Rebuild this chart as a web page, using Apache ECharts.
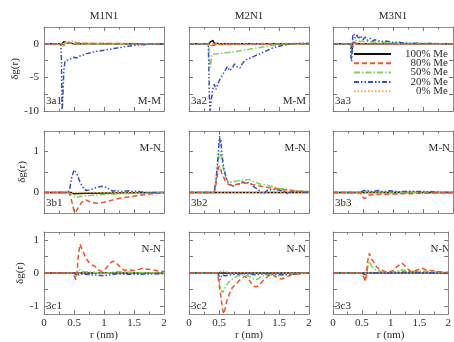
<!DOCTYPE html>
<html><head><meta charset="utf-8">
<script src="https://cdn.jsdelivr.net/npm/echarts@6/dist/echarts.min.js"></script>
<style>html,body{margin:0;padding:0;background:#fff}#c{width:454px;height:342px}</style>
</head><body><div id="c"></div>
<script>
// ---------- labels ----------
const seriesNames = ['100% Me','80% Me','50% Me','20% Me','0% Me'];
const columnTitles = ['M1N1','M2N1','M3N1'];
const pairLabels = ['M-M','M-N','N-N'];
const panelIds = [['3a1','3a2','3a3'],['3b1','3b2','3b3'],['3c1','3c2','3c3']];
const yRanges = [[-10,2.5],[-0.5,1.5],[-1.25,1.25]];
const yLabelValues = [[-10,-5,0],[0,1],[-1,0,1]];
const yTickValues = [[-10,-7.5,-5,-2.5,0],[-0.5,0,0.5,1],[-1,-0.5,0,0.5,1]];

// ---------- data: [r, δg(r)] ----------
const flat = [[0,0],[2,0]];
// row a (M-M)
const a1_100 = [[0,0],[0.3,0],[0.33,0.3],[0.37,0.2],[0.42,0.1],[0.5,0],[2,0]];
const a1_80 = [[0,0],[0.3,0],[0.34,-0.2],[0.4,0.1],[0.6,0.05],[2,0]];
const a1_50 = [[0,0],[0.3,0],[0.32,-0.5],[0.36,0.2],[0.45,0.1],[0.7,0],[2,0]];
const a1_20 = [[0,0],[0.28,0],[0.29,-2],[0.3,-9.8],[0.31,-9],[0.33,-4],[0.35,-2.6],[0.4,-2.4],[0.45,-2.2],[0.5,-2.0],[0.55,-2.1],[0.6,-1.8],[0.65,-1.7],[0.7,-1.5],[0.8,-1.3],[0.9,-1.1],[1.0,-0.95],[1.1,-0.8],[1.2,-0.65],[1.3,-0.5],[1.4,-0.35],[1.5,-0.25],[1.6,-0.15],[1.7,-0.1],[1.8,-0.05],[2,0]];
const a1_0 = [[0,0],[0.3,0],[0.35,0.2],[0.45,0.4],[0.55,0.2],[0.8,0.1],[1.2,0.05],[2,0]];
const a2_100 = [[0,0],[0.33,0],[0.36,0.3],[0.38,0.55],[0.4,0.5],[0.42,0.1],[0.45,-0.1],[0.5,0],[2,0]];
const a2_80 = [[0,0],[0.33,0],[0.36,-0.4],[0.4,-0.2],[0.5,-0.1],[0.7,-0.05],[1,0],[2,0]];
const a2_50 = [[0,0],[0.33,0],[0.34,-2.5],[0.36,-3.5],[0.38,-1.6],[0.45,-1.5],[0.55,-1.4],[0.65,-1.3],[0.75,-1.2],[0.85,-1.05],[0.95,-0.9],[1.05,-0.75],[1.15,-0.6],[1.25,-0.45],[1.35,-0.3],[1.45,-0.2],[1.6,-0.1],[1.8,-0.05],[2,0]];
const a2_20 = [[0,0],[0.32,0],[0.33,-3],[0.34,-8],[0.35,-10],[0.37,-10],[0.39,-7],[0.42,-6],[0.45,-6.8],[0.48,-6],[0.52,-5.2],[0.56,-4.6],[0.6,-4],[0.64,-3.4],[0.68,-4],[0.72,-3.6],[0.76,-3],[0.8,-3.4],[0.85,-3.6],[0.9,-2.8],[0.95,-2.4],[1.0,-2.2],[1.1,-1.8],[1.2,-1.4],[1.3,-1.0],[1.4,-0.6],[1.5,-0.35],[1.6,-0.15],[1.7,0],[1.8,0.05],[1.9,0.1],[2,0.1]];
const a2_0 = [[0,0],[0.33,0],[0.36,-0.3],[0.42,0.1],[0.5,0],[2,0]];
const a3_100 = [[0,0],[0.3,0],[0.32,-0.8],[0.34,0.3],[0.38,0],[2,0]];
const a3_80 = [[0,0],[0.3,0],[0.32,-0.4],[0.35,0.2],[0.4,0],[2,0]];
const a3_50 = [[0,0],[0.3,0],[0.31,-1.5],[0.33,-0.5],[0.36,0.5],[0.45,0.4],[0.6,0.3],[0.8,0.2],[1.0,0.1],[1.3,0.05],[2,0]];
const a3_20 = [[0,0],[0.29,0],[0.3,-2],[0.31,-2.6],[0.32,-1],[0.33,1.2],[0.35,1.5],[0.37,0.8],[0.4,1.3],[0.43,0.7],[0.46,1.2],[0.5,0.6],[0.54,1.0],[0.58,0.5],[0.62,0.8],[0.66,0.4],[0.7,0.6],[0.8,0.35],[0.9,0.4],[1.0,0.2],[1.1,0.25],[1.2,0.1],[1.3,0.1],[1.5,0.05],[2,0]];
const a3_0 = [[0,0],[0.3,0],[0.33,0.3],[0.4,0.1],[2,0]];
// row b (M-N)
const b1_100 = [[0,0],[0.45,0],[0.5,-0.03],[0.7,-0.02],[2,0]];
const b1_80 = [[0,0],[0.42,0],[0.46,-0.2],[0.5,-0.45],[0.52,-0.5],[0.55,-0.42],[0.6,-0.3],[0.65,-0.2],[0.7,-0.18],[0.75,-0.22],[0.8,-0.25],[0.9,-0.26],[1.0,-0.24],[1.1,-0.2],[1.2,-0.16],[1.3,-0.13],[1.4,-0.11],[1.5,-0.09],[1.6,-0.07],[1.7,-0.05],[1.8,-0.03],[1.9,-0.02],[2,0]];
const b1_50 = [[0,0],[0.42,0],[0.47,-0.05],[0.52,-0.12],[0.6,-0.1],[0.7,-0.08],[0.8,-0.07],[1.0,-0.05],[1.3,-0.03],[1.6,-0.02],[2,0]];
const b1_20 = [[0,0],[0.4,0],[0.43,0.1],[0.46,0.35],[0.5,0.55],[0.52,0.55],[0.55,0.45],[0.6,0.25],[0.65,0.12],[0.7,0.05],[0.75,0.06],[0.8,0.08],[0.85,0.11],[0.9,0.13],[0.95,0.15],[1.0,0.14],[1.05,0.12],[1.1,0.07],[1.15,0.03],[1.2,0.05],[1.3,0.02],[1.4,0.04],[1.5,0.02],[1.55,0.04],[1.6,0.02],[1.7,0],[2,0]];
const b1_0 = flat;
const b2_100 = flat;
const b2_80 = [[0,0],[0.42,0],[0.45,0.2],[0.48,0.5],[0.5,0.65],[0.52,0.6],[0.55,0.45],[0.6,0.3],[0.65,0.2],[0.7,0.18],[0.8,0.2],[0.9,0.24],[1.0,0.22],[1.1,0.18],[1.2,0.15],[1.3,0.13],[1.4,0.1],[1.5,0.08],[1.6,0.06],[1.7,0.04],[1.8,0.03],[2,0.02]];
const b2_50 = [[0,0],[0.42,0],[0.46,0.4],[0.5,0.9],[0.52,1.0],[0.54,0.85],[0.57,0.6],[0.6,0.4],[0.65,0.28],[0.7,0.25],[0.8,0.28],[0.9,0.3],[1.0,0.32],[1.1,0.25],[1.2,0.2],[1.3,0.18],[1.4,0.14],[1.5,0.1],[1.6,0.08],[1.8,0.04],[2,0.02]];
const b2_20 = [[0,0],[0.42,0],[0.45,0.3],[0.48,0.8],[0.5,1.2],[0.51,1.38],[0.52,1.2],[0.53,1.3],[0.55,0.9],[0.58,0.6],[0.62,0.35],[0.66,0.22],[0.7,0.18],[0.75,0.15],[0.8,0.22],[0.85,0.2],[0.9,0.26],[0.95,0.22],[1.0,0.25],[1.05,0.18],[1.1,0.12],[1.15,0.08],[1.2,0.0],[1.25,-0.02],[1.3,0.05],[1.4,0.08],[1.5,0.06],[1.6,0.02],[1.65,-0.04],[1.7,0.02],[1.8,0.03],[1.9,0.01],[2,0]];
const b2_0 = flat;
const b3_100 = flat;
const b3_80 = [[0,0],[0.45,0],[0.48,-0.08],[0.52,-0.15],[0.56,-0.12],[0.6,-0.06],[0.7,-0.05],[0.9,-0.04],[1.2,-0.03],[1.5,-0.02],[2,0]];
const b3_50 = [[0,0],[0.45,0],[0.5,-0.05],[0.55,0.03],[0.7,0.02],[1.0,0.01],[2,0]];
const b3_20 = [[0,0],[0.45,0],[0.5,0.04],[0.55,0.05],[0.65,0.02],[0.75,0.05],[0.85,0.02],[0.95,0.04],[1.1,0.02],[1.3,0.03],[1.5,0.02],[2,0]];
const b3_0 = flat;
// row c (N-N)
const c1_100 = flat;
const c1_80 = [[0,0],[0.48,0],[0.5,-0.08],[0.53,-0.2],[0.55,0.0],[0.57,0.5],[0.6,0.88],[0.62,0.85],[0.65,0.65],[0.7,0.45],[0.75,0.32],[0.8,0.25],[0.85,0.2],[0.9,0.1],[0.95,0.05],[1.0,0.08],[1.05,0.18],[1.1,0.3],[1.15,0.36],[1.2,0.32],[1.25,0.22],[1.3,0.12],[1.35,0.08],[1.4,0.1],[1.5,0.08],[1.6,0.12],[1.65,0.15],[1.7,0.12],[1.8,0.1],[1.9,0.06],[2,0.05]];
const c1_50 = [[0,0],[0.48,0],[0.52,-0.15],[0.55,-0.05],[0.6,0.1],[0.65,0.05],[0.8,0.03],[1.0,-0.03],[1.2,0.05],[1.5,0.02],[2,0]];
const c1_20 = [[0,0],[0.5,0],[0.55,-0.08],[0.6,-0.03],[0.8,-0.05],[1.0,-0.08],[1.2,-0.03],[1.5,-0.04],[2,-0.02]];
const c1_0 = flat;
const c2_100 = flat;
const c2_80 = [[0,0],[0.47,0],[0.5,-0.3],[0.53,-0.7],[0.56,-1.1],[0.58,-1.25],[0.6,-1.1],[0.63,-0.85],[0.67,-0.65],[0.72,-0.45],[0.8,-0.3],[0.88,-0.15],[0.93,-0.1],[1.0,-0.2],[1.05,-0.35],[1.1,-0.42],[1.15,-0.4],[1.2,-0.3],[1.25,-0.2],[1.3,-0.12],[1.35,-0.05],[1.4,-0.06],[1.45,-0.12],[1.5,-0.16],[1.55,-0.18],[1.6,-0.14],[1.7,-0.06],[1.8,-0.03],[1.9,-0.01],[2,0.02]];
const c2_50 = [[0,0],[0.48,0],[0.5,-0.2],[0.53,-0.5],[0.56,-0.6],[0.6,-0.45],[0.65,-0.3],[0.7,-0.2],[0.8,-0.1],[0.9,-0.05],[1.0,-0.1],[1.1,-0.2],[1.15,-0.18],[1.2,-0.1],[1.3,-0.05],[1.5,-0.08],[1.6,-0.05],[1.8,-0.02],[2,0]];
const c2_20 = [[0,0],[0.48,0],[0.5,-0.1],[0.52,-0.2],[0.55,-0.05],[0.6,-0.08],[0.7,-0.05],[0.9,-0.02],[1.1,-0.05],[1.3,-0.02],[1.6,-0.05],[2,0]];
const c2_0 = [[0,0],[0.5,0],[0.55,0.08],[0.6,0.05],[0.7,0],[2,0]];
const c3_100 = flat;
const c3_80 = [[0,0],[0.5,0],[0.53,-0.1],[0.56,-0.25],[0.58,-0.05],[0.6,0.35],[0.63,0.6],[0.66,0.45],[0.7,0.35],[0.75,0.2],[0.8,0.12],[0.85,0.1],[0.9,0.04],[0.95,0.0],[1.0,0.05],[1.05,0.08],[1.1,0.18],[1.15,0.25],[1.2,0.3],[1.25,0.22],[1.3,0.12],[1.35,0.05],[1.4,0.05],[1.5,0.12],[1.55,0.15],[1.6,0.1],[1.7,0.08],[1.8,0.05],[1.9,0.03],[2,0.02]];
const c3_50 = [[0,0],[0.5,0],[0.53,-0.1],[0.56,-0.22],[0.6,0.15],[0.63,0.35],[0.67,0.2],[0.75,0.08],[0.85,0.05],[1.0,0.02],[1.2,0.1],[1.3,0.05],[1.5,0.06],[2,0.02]];
const c3_20 = [[0,0],[0.5,0],[0.55,-0.05],[0.6,0.02],[0.8,0],[1.2,0.03],[2,0]];
const c3_0 = flat;

// panels[row][col] = [100%, 80%, 50%, 20%, 0%]
const panels = [
  [[a1_100,a1_80,a1_50,a1_20,a1_0],[a2_100,a2_80,a2_50,a2_20,a2_0],[a3_100,a3_80,a3_50,a3_20,a3_0]],
  [[b1_100,b1_80,b1_50,b1_20,b1_0],[b2_100,b2_80,b2_50,b2_20,b2_0],[b3_100,b3_80,b3_50,b3_20,b3_0]],
  [[c1_100,c1_80,c1_50,c1_20,c1_0],[c2_100,c2_80,c2_50,c2_20,c2_0],[c3_100,c3_80,c3_50,c3_20,c3_0]]
];

// ---------- styles ----------
const FONT = 'Liberation Serif';
const TXT = '#2a2a2a';
const FRAME = '#8c8c8c';
const colors = ['#111111','#e8562a','#86d05a','#3352c0','#f4a64c'];
const dashes = ['solid',[5,3],[6,2,1.5,2],[5,2,1.5,2,1.5,2],[1.5,2]];
const drawOrder = [0,4,2,3,1];
const colLeft = [44,189,333], colWidth = 120;
const rowTop = [27,131,232], rowHeight = [84,82,84];

const grid = [], xAxis = [], yAxis = [], series = [], graphic = [];
for (let r = 0; r < 3; r++) {
  for (let c = 0; c < 3; c++) {
    const g = r*3 + c;
    grid.push({left: colLeft[c], top: rowTop[r], width: colWidth, height: rowHeight[r], show: false});
    const xBase = {
      gridIndex: g, type: 'value', min: 0, max: 2, interval: 0.5,
      axisLine: {show: true, onZero: false, lineStyle: {color: FRAME, width: 1}},
      axisTick: {show: true, inside: true, length: 4, lineStyle: {color: '#777'}},
      minorTick: {show: true, splitNumber: 2, length: 2.5, lineStyle: {color: '#777'}},
      splitLine: {show: false}, minorSplitLine: {show: false}
    };
    xAxis.push(Object.assign({}, xBase, {
      position: 'bottom',
      axisLabel: {show: r === 2, color: TXT, fontFamily: FONT, fontSize: 11, margin: 4},
      name: r === 2 ? 'r (nm)' : '', nameLocation: 'middle', nameGap: 15,
      nameTextStyle: {color: TXT, fontFamily: FONT, fontSize: 11}
    }));
    xAxis.push(Object.assign({}, xBase, {position: 'top', axisLabel: {show: false}}));
    const yBase = {
      gridIndex: g, type: 'value', min: yRanges[r][0], max: yRanges[r][1],
      axisLine: {show: true, onZero: false, lineStyle: {color: FRAME, width: 1}},
      axisTick: {show: true, inside: true, length: 4, customValues: yTickValues[r], lineStyle: {color: '#777'}},
      splitLine: {show: false}
    };
    yAxis.push(Object.assign({}, yBase, {
      position: 'left',
      axisLabel: {show: c === 0, customValues: yLabelValues[r], color: TXT, fontFamily: FONT, fontSize: 11, margin: 5},
      name: c === 0 ? 'δg(r)' : '', nameLocation: 'middle', nameGap: 16,
      nameTextStyle: {color: TXT, fontFamily: FONT, fontSize: 11}
    }));
    yAxis.push(Object.assign({}, yBase, {position: 'right', axisLabel: {show: false}}));
    for (const k of drawOrder) {
      series.push({
        type: 'line', name: seriesNames[k], xAxisIndex: 2*g, yAxisIndex: 2*g,
        data: panels[r][c][k], symbol: 'none', showSymbol: false, silent: true,
        lineStyle: {color: colors[k], width: 1.5, type: dashes[k]},
        itemStyle: {color: colors[k]}, z: 2
      });
    }
    graphic.push({type: 'text', silent: true, style: {
      text: panelIds[r][c], x: colLeft[c] + 2, y: rowTop[r] + rowHeight[r] - 10,
      fill: TXT, fontFamily: FONT, fontSize: 11, align: 'left', verticalAlign: 'middle',
      textAlign: 'left', textVerticalAlign: 'middle'}});
    if (!(r === 0 && c === 2)) {
      const py = r === 0 ? rowTop[r] + rowHeight[r] - 10 : rowTop[r] + 17;
      graphic.push({type: 'text', silent: true, style: {
        text: pairLabels[r], x: colLeft[c] + colWidth - 3, y: py,
        fill: TXT, fontFamily: FONT, fontSize: 11, align: 'right', verticalAlign: 'middle',
        textAlign: 'right', textVerticalAlign: 'middle'}});
    }
  }
}
for (let c = 0; c < 3; c++) {
  graphic.push({type: 'text', silent: true, style: {
    text: columnTitles[c], x: colLeft[c] + colWidth/2, y: 16,
    fill: TXT, fontFamily: FONT, fontSize: 11, align: 'center', verticalAlign: 'middle',
    textAlign: 'center', textVerticalAlign: 'middle'}});
}

const chart = echarts.init(document.getElementById('c'), null, {renderer: 'canvas'});
chart.setOption({
  animation: false,
  backgroundColor: '#fff',
  grid, xAxis, yAxis, series, graphic,
  legend: {
    data: seriesNames, orient: 'vertical', left: 353, top: 48.5, padding: 0,
    itemWidth: 37, itemHeight: 8, itemGap: -1.7, selectedMode: false,
    itemStyle: {opacity: 0, borderWidth: 0},
    formatter: '{a|{name}}',
    textStyle: {color: TXT, fontFamily: FONT, fontSize: 11, lineHeight: 9,
      rich: {a: {width: 52, align: 'right', color: TXT, fontFamily: FONT, fontSize: 11, lineHeight: 9}}}
  }
});
</script>
</body></html>
